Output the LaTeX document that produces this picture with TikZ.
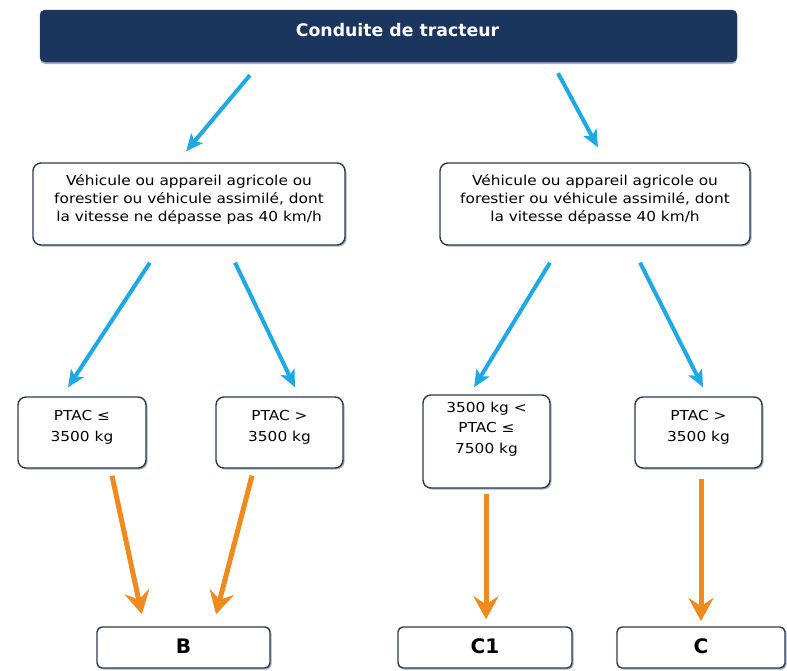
\documentclass[tikz,border=0pt]{standalone}
\usepackage{fontspec}
\setmainfont{DejaVu Sans}
\newfontfamily\boxfont[FakeStretch=1.12]{DejaVu Sans}
\usetikzlibrary{arrows.meta,shadows}
\definecolor{navy}{HTML}{1B365E}
\definecolor{boxline}{HTML}{2B3A52}
\definecolor{boxshade}{HTML}{A3B0C2}
\definecolor{skyarrow}{HTML}{1EA8E4}
\definecolor{orangearrow}{HTML}{F08A1C}
\newcommand{\intext}[4]{\parbox[c][#2][t]{#1}{\centering\rule{0pt}{#3}#4}}

\begin{document}
\begin{tikzpicture}[x=1pt, y=-1pt,
	head/.style={fill=navy, draw=navy, rounded corners=5pt, inner sep=0pt, text=white, font=\bfseries\fontsize{17.3}{20}\selectfont, drop shadow={shadow xshift=0pt, shadow yshift=-2pt, fill=boxshade, opacity=1}},
	box/.style={draw=boxline, fill=white, line width=1.4pt, rounded corners=8pt, inner sep=0pt, text=black, font=\boxfont\fontsize{13.7}{18.3}\selectfont, drop shadow={shadow xshift=1.5pt, shadow yshift=-1.5pt, fill=boxshade, opacity=1}},
	low/.style={box, font=\boxfont\fontsize{13.7}{20.5}\selectfont},
	grade/.style={box, rounded corners=5pt, font=\bfseries\fontsize{20}{24}\selectfont},
	barrow/.style={color=skyarrow, line width=4pt, -{Stealth[length=17pt, width=15pt, inset=4pt]}},
	oarrow/.style={color=orangearrow, line width=5pt, -{Stealth[length=23pt, width=25pt, inset=8pt]}}]
	\useasboundingbox (0,0) rectangle (787,670);
		\node (t)[head] at(388.5,36) {\intext{697pt}{52pt}{26pt}{\hspace*{18pt}Conduite de tracteur}};
		\node (v1)[box] at(189,204) {\intext{312pt}{82pt}{22pt}{Véhicule ou appareil agricole ou\\forestier ou véhicule assimilé, dont\\la vitesse ne dépasse pas 40 km/h}};
		\node (v2)[box] at(595,204) {\intext{310pt}{82pt}{22pt}{Véhicule ou appareil agricole ou\\forestier ou véhicule assimilé, dont\\la vitesse dépasse 40 km/h}};
		\node (b1)[low] at(82,432.5) {\intext{128pt}{71pt}{23.5pt}{PTAC ≤\\3500 kg}};
		\node (b2)[low] at(279.5,432.5) {\intext{127pt}{71pt}{23.5pt}{PTAC >\\3500 kg}};
		\node (b3)[low] at(486.5,441.5) {\intext{127pt}{93pt}{17pt}{3500 kg <\\PTAC ≤\\7500 kg}};
		\node (b4)[low] at(698.5,432.5) {\intext{127pt}{71pt}{23.5pt}{PTAC >\\3500 kg}};
		\node (gB)[grade] at(183.5,647.5) {\intext{173pt}{41pt}{26pt}{B}};
		\node (gC1)[grade] at(485,647.5) {\intext{174pt}{41pt}{26pt}{C1}};
		\node (gC)[grade] at(701,647.5) {\intext{168pt}{41pt}{26pt}{C}};
		\draw [barrow, shorten <=16.9pt, shorten >=14.3pt]([xshift=-127.7pt]t.south)--([xshift=-12.1pt]v1.north);
		\draw [barrow, shorten <=12.5pt, shorten >=17pt]([xshift=163.6pt]t.south)--([xshift=11pt]v2.north);
		\draw [barrow, shorten <=20.3pt, shorten >=10.7pt]([xshift=-28pt]v1.south)--([xshift=-19.9pt]b1.north);
		\draw [barrow, shorten <=18.8pt, shorten >=10pt]([xshift=37.9pt]v1.south)--([xshift=19.8pt]b2.north);
		\draw [barrow, shorten <=19.9pt, shorten >=8.2pt]([xshift=-34.7pt]v2.south)--([xshift=-16.7pt]b3.north);
		\draw [barrow, shorten <=19pt, shorten >=10.1pt]([xshift=36.5pt]v2.south)--([xshift=9pt]b4.north);
		\draw [oarrow, shorten <=7.2pt, shorten >=12.3pt]([xshift=28.5pt]b1.south)--([xshift=-39.1pt]gB.north);
		\draw [oarrow, shorten <=7.2pt, shorten >=12.4pt]([xshift=-25.7pt]b2.south)--([xshift=29.4pt]gB.north);
		\draw [oarrow, shorten <=5pt, shorten >=7pt]([xshift=-0.5pt]b3.south)--([xshift=1pt]gC1.north);
		\draw [oarrow, shorten <=10pt, shorten >=5.3pt]([xshift=2.5pt]b4.south)--(gC.north);
	\end{tikzpicture}
\end{document}
